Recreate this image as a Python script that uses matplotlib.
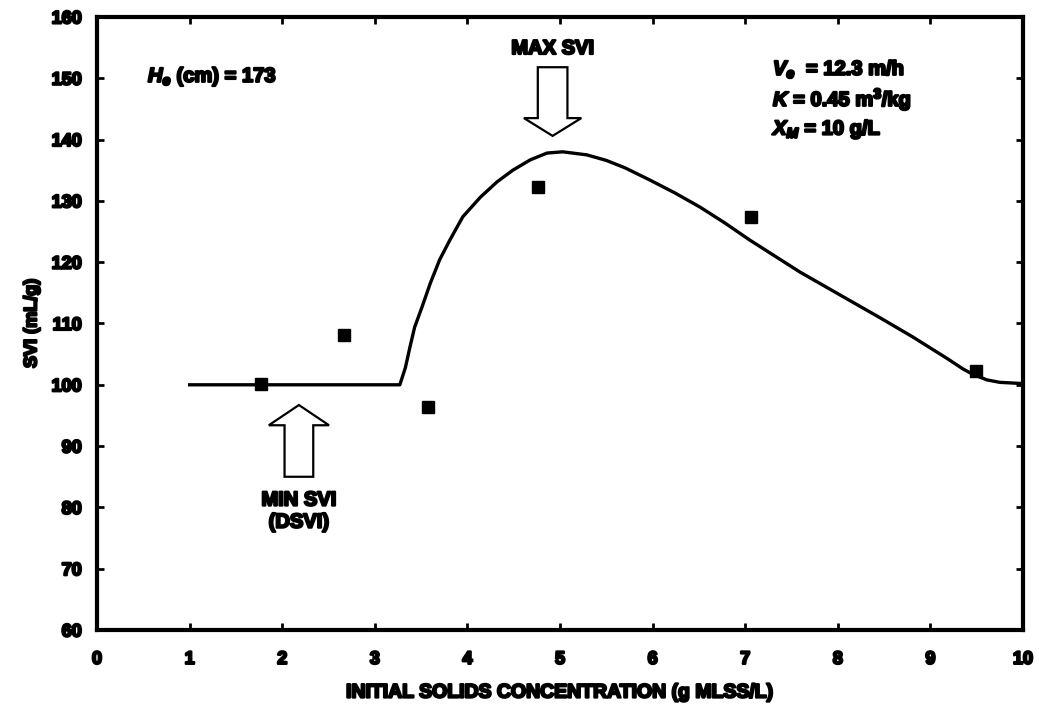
import matplotlib
matplotlib.use("Agg")
import matplotlib.pyplot as plt
import matplotlib.patheffects as pe
from matplotlib.patches import FancyArrow

# measured SVI vs initial solids concentration
conc_obs = [1.77, 2.67, 3.57, 4.76, 7.06, 9.49]
svi_obs = [100.2, 108.2, 96.3, 132.2, 127.3, 102.3]

# model curve
conc_model = [1.0, 2.0, 3.0, 3.27, 3.33, 3.38, 3.43, 3.51, 3.60, 3.70, 3.81, 3.95,
              4.14, 4.32, 4.49, 4.68, 4.86, 5.03, 5.29, 5.50, 5.70, 5.97, 6.24,
              6.51, 6.78, 7.05, 7.32, 7.59, 8.10, 8.46, 8.81, 9.00, 9.18, 9.35,
              9.46, 9.61, 9.75, 10.0]
svi_model = [100.0, 100.0, 100.0, 100.0, 102.8, 106.2, 109.4, 112.7, 116.6, 120.4,
             123.6, 127.4, 130.6, 133.1, 135.0, 136.7, 137.8, 138.0, 137.5, 136.6,
             135.4, 133.4, 131.3, 129.0, 126.4, 123.6, 121.0, 118.4, 114.0, 110.9,
             107.8, 106.0, 104.3, 102.6, 101.7, 100.8, 100.4, 100.2]

x_ticks = list(range(0, 11))
y_ticks = list(range(60, 161, 10))

plt.rcParams["font.family"] = "Liberation Sans"
plt.rcParams["font.weight"] = "bold"
plt.rcParams["mathtext.fontset"] = "custom"
plt.rcParams["mathtext.rm"] = "Liberation Sans:bold"
plt.rcParams["mathtext.it"] = "Liberation Sans:bold:italic"
plt.rcParams["mathtext.bf"] = "Liberation Sans:bold"

heavy = [pe.withStroke(linewidth=1.6, foreground="black")]

fig = plt.figure(figsize=(10.39, 7.06), dpi=100)
ax = fig.add_axes([0.0934, 0.1076, 0.8912, 0.8684])

ax.plot(conc_model, svi_model, color="black", lw=2.4, solid_joinstyle="round")
ax.plot(conc_obs, svi_obs, ls="none", marker="s", ms=8.5, color="black")

# open block arrows marking the max and min SVI
ax.add_patch(FancyArrow(4.92, 151.8, 0, -11.2, width=0.32, head_width=0.62,
                        head_length=2.9, length_includes_head=True,
                        facecolor="white", edgecolor="black", lw=1.6, zorder=3))
ax.add_patch(FancyArrow(2.18, 85.0, 0, 11.7, width=0.31, head_width=0.65,
                        head_length=3.3, length_includes_head=True,
                        facecolor="white", edgecolor="black", lw=1.6, zorder=3))

txt_kw = dict(fontsize=14.5, fontweight="bold", path_effects=heavy)
ax.text(4.92, 153.3, "MAX SVI", ha="center", va="bottom", **txt_kw)
ax.text(2.18, 81.2, "MIN SVI", ha="center", va="center", **txt_kw)
ax.text(2.18, 77.6, "(DSVI)", ha="center", va="center", **txt_kw)
ax.text(0.55, 150.3, r"$H_e$ (cm) = 173", ha="left", va="center", **txt_kw)
ax.text(7.3, 151.5, r"$V_e$  = 12.3 m/h", ha="left", va="center", **txt_kw)
ax.text(7.3, 146.6, r"$K$ = 0.45 m$^3$/kg", ha="left", va="center", **txt_kw)
ax.text(7.3, 141.7, r"$X_M$ = 10 g/L", ha="left", va="center", **txt_kw)

ax.set_xlim(0, 10)
ax.set_ylim(60, 160)
ax.set_xticks(x_ticks)
ax.set_yticks(y_ticks)
ax.tick_params(direction="in", length=5, width=2, top=True, right=True,
               labelsize=13, pad=11)
ax.tick_params(axis="x", pad=15)
for lab in ax.get_xticklabels() + ax.get_yticklabels():
    lab.set_fontweight("bold")
    lab.set_path_effects(heavy)
for sp in ax.spines.values():
    sp.set_linewidth(3)

ax.set_xlabel("INITIAL SOLIDS CONCENTRATION (g MLSS/L)", fontsize=14,
              fontweight="bold", labelpad=12, path_effects=heavy)
ax.set_ylabel("SVI (mL/g)", fontsize=13, fontweight="bold", labelpad=8,
              path_effects=heavy)

fig.savefig("out.png", dpi=100)
